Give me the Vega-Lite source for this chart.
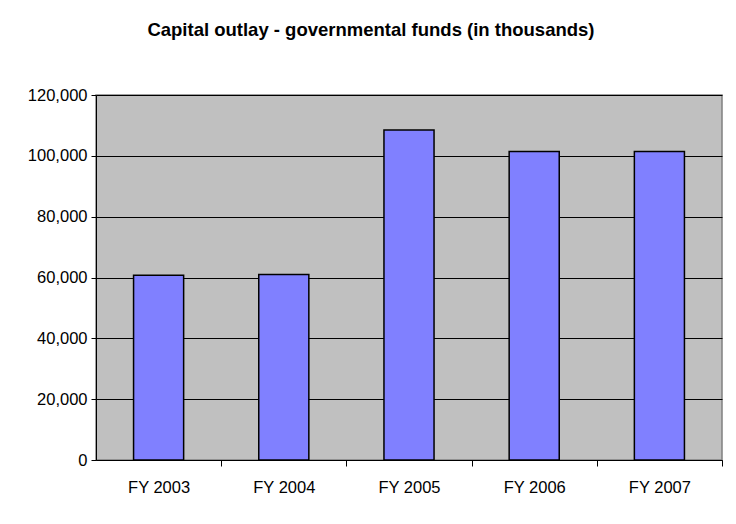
{
  "$schema": "https://vega.github.io/schema/vega-lite/v6.json",
  "width": 626,
  "height": 365,
  "autosize": {"type": "none"},
  "padding": {"left": 96, "top": 95, "right": 14, "bottom": 64},
  "background": "white",
  "title": {
    "text": "Capital outlay - governmental funds (in thousands)",
    "font": "Liberation Sans",
    "fontSize": 18.5,
    "fontWeight": "bold",
    "color": "black",
    "anchor": "middle",
    "frame": "bounds",
    "offset": 48,
    "dx": -4
  },
  "data": {
    "values": [
      {"year": "FY 2003", "value": 60700},
      {"year": "FY 2004", "value": 61000},
      {"year": "FY 2005", "value": 108500},
      {"year": "FY 2006", "value": 101400},
      {"year": "FY 2007", "value": 101400}
    ]
  },
  "mark": {"type": "bar", "color": "#8080FF", "stroke": "black", "strokeWidth": 1.5},
  "encoding": {
    "x": {
      "field": "year",
      "type": "nominal",
      "sort": null,
      "scale": {"paddingInner": 0.6, "paddingOuter": 0.3},
      "axis": {
        "title": null,
        "labelAngle": 0,
        "ticks": true,
        "tickExtra": false,
        "tickOffset": 62.6,
        "labelOffset": -62.6,
        "tickWidth": 1,
        "labelFont": "Liberation Sans",
        "labelFontSize": 16.5,
        "labelColor": "black",
        "labelPadding": 13,
        "domainColor": "black",
        "domainWidth": 1,
        "tickColor": "black",
        "tickSize": 6,
        "grid": false
      }
    },
    "y": {
      "field": "value",
      "type": "quantitative",
      "scale": {"domain": [0, 120000], "nice": false},
      "axis": {
        "title": null,
        "values": [0, 20000, 40000, 60000, 80000, 100000, 120000],
        "format": ",.0f",
        "labelFont": "Liberation Sans",
        "labelFontSize": 16.5,
        "labelColor": "black",
        "labelPadding": 4,
        "domainColor": "black",
        "tickColor": "black",
        "tickSize": 5,
        "grid": true,
        "gridColor": "black",
        "gridOpacity": 1,
        "gridWidth": 1
      }
    }
  },
  "config": {
    "view": {"fill": "#C0C0C0", "stroke": "#808080", "strokeWidth": 1.5}
  }
}
